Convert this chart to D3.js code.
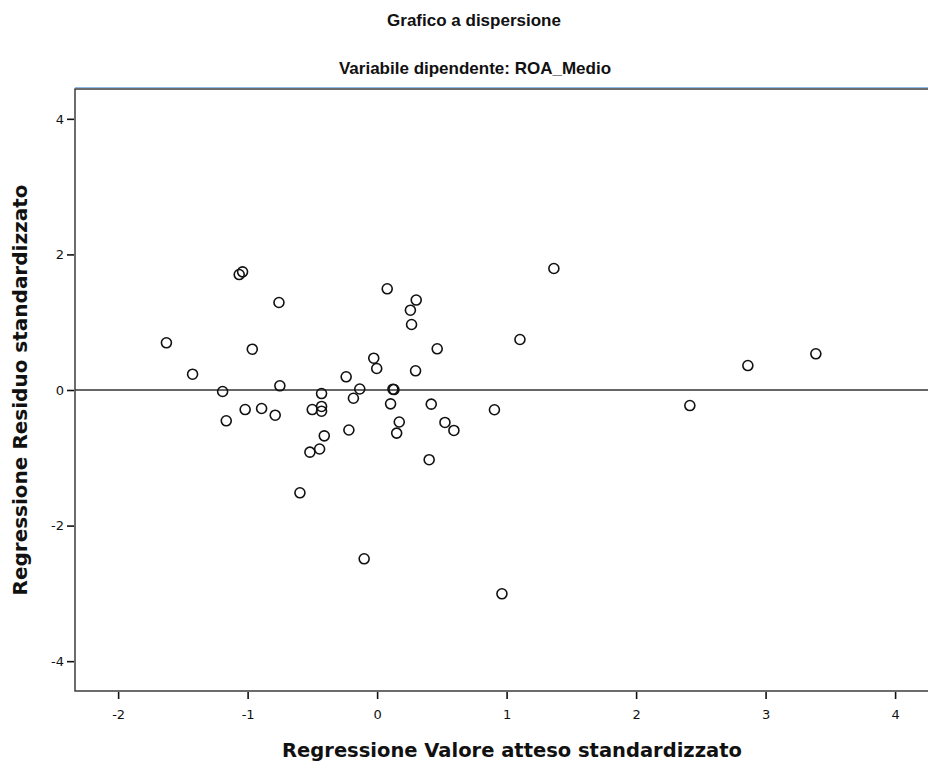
<!DOCTYPE html>
<html>
<head>
<meta charset="utf-8">
<script src="https://cdn.jsdelivr.net/npm/d3@7"></script>
<style>
  html, body { margin: 0; padding: 0; background: #fff; }
  svg { display: block; }
</style>
</head>
<body>
<div id="chart"></div>
<script>
// standardized predicted values (x) and standardized residuals (y)
const predicted = [
  -1.627, -1.425, -1.193, -1.165, -1.065, -1.039, -1.019, -0.964, -0.892, -0.787,
  -0.758, -0.751, -0.596, -0.519, -0.501, -0.444, -0.429, -0.429, -0.429, -0.408,
  -0.239, -0.218, -0.183, -0.134, -0.100, -0.026, -0.003, 0.078, 0.104, 0.122,
  0.130, 0.171, 0.151, 0.257, 0.302, 0.266, 0.297, 0.402, 0.418, 0.464,
  0.524, 0.593, 0.906, 0.964, 1.103, 1.365, 2.415, 2.863, 3.388
];
const residuals = [
  0.696, 0.233, -0.022, -0.454, 1.703, 1.743, -0.288, 0.602, -0.273, -0.372,
  1.291, 0.062, -1.516, -0.917, -0.288, -0.870, -0.052, -0.243, -0.313, -0.676,
  0.195, -0.590, -0.122, 0.015, -2.490, 0.469, 0.317, 1.493, -0.204, 0.012,
  0.007, -0.472, -0.636, 1.177, 1.327, 0.966, 0.283, -1.028, -0.209, 0.608,
  -0.479, -0.597, -0.291, -3.006, 0.745, 1.792, -0.229, 0.361, 0.534
];
const xTicks = [-2, -1, 0, 1, 2, 3, 4];
const yTicks = [-4, -2, 0, 2, 4];

const title1 = 'Grafico a dispersione',
    title2 = 'Variabile dipendente: ROA_Medio',
    xTitle = 'Regressione Valore atteso standardizzato',
    yTitle = 'Regressione Residuo standardizzato';

const width = 928,
    height = 766,
    plot = {left: 75, top: 89, right: 950, bottom: 691};

const points = predicted.map((x, i) => ({x: x, y: residuals[i]}));

const x = d3.scaleLinear()
    .domain([-2.333, 4.424])
    .range([plot.left, plot.right]);

const y = d3.scaleLinear()
    .domain([-4.44, 4.44])
    .range([plot.bottom, plot.top]);

// plain hyphen for negatives, like the original
const fmt = d => String(d);

const svg = d3.select('#chart').append('svg')
    .attr('width', width)
    .attr('height', height);

// titles
svg.append('text')
    .attr('x', 474)
    .attr('y', 26)
    .attr('text-anchor', 'middle')
    .style('font', 'bold 17px "Liberation Sans", Arial, sans-serif')
    .attr('fill', '#111')
    .text(title1);

svg.append('text')
    .attr('x', 475)
    .attr('y', 74)
    .attr('text-anchor', 'middle')
    .style('font', 'bold 17px "Liberation Sans", Arial, sans-serif')
    .attr('fill', '#111')
    .text(title2);

// light blue selection line above the frame
svg.append('line')
    .attr('x1', plot.left)
    .attr('x2', width)
    .attr('y1', plot.top - 1.5)
    .attr('y2', plot.top - 1.5)
    .attr('stroke', '#8fb8e8')
    .attr('stroke-width', 1);

// frame: top, left and bottom
svg.append('path')
    .attr('d', `M${width},${plot.top}H${plot.left}V${plot.bottom}H${width}`)
    .attr('fill', 'none')
    .attr('stroke', '#3c3c3c')
    .attr('stroke-width', 1.5);

// reference line at 0
svg.append('line')
    .attr('x1', plot.left)
    .attr('x2', width)
    .attr('y1', y(0))
    .attr('y2', y(0))
    .attr('stroke', '#333')
    .attr('stroke-width', 1.3);

// axes
const xAxis = svg.append('g')
    .attr('transform', `translate(0, ${plot.bottom})`)
    .call(d3.axisBottom(x).tickValues(xTicks).tickSize(8).tickPadding(11).tickFormat(fmt));

const yAxis = svg.append('g')
    .attr('transform', `translate(${plot.left}, 0)`)
    .call(d3.axisLeft(y).tickValues(yTicks).tickSize(8).tickPadding(3).tickFormat(fmt));

[xAxis, yAxis].forEach(g => {
    g.select('.domain').remove();
    g.selectAll('.tick line')
        .attr('stroke', '#111')
        .attr('stroke-width', 1.6);
    g.selectAll('.tick text')
        .attr('fill', '#111')
        .style('font', '13px "DejaVu Sans", Verdana, sans-serif');
});
xAxis.selectAll('.tick line').attr('y1', 1);
yAxis.selectAll('.tick line').attr('x1', -1);

// axis titles
svg.append('text')
    .attr('x', 512)
    .attr('y', 757)
    .attr('text-anchor', 'middle')
    .style('font', 'bold 19.5px "DejaVu Sans", Verdana, sans-serif')
    .attr('fill', '#111')
    .text(xTitle);

svg.append('text')
    .attr('transform', `translate(27, 390) rotate(-90)`)
    .attr('text-anchor', 'middle')
    .style('font', 'bold 20px "DejaVu Sans", Verdana, sans-serif')
    .attr('fill', '#111')
    .text(yTitle);

// points
svg.append('g')
    .selectAll('circle')
    .data(points)
    .join('circle')
    .attr('cx', d => x(d.x))
    .attr('cy', d => y(d.y))
    .attr('r', 5)
    .attr('fill', 'none')
    .attr('stroke', '#111')
    .attr('stroke-width', 1.6);
</script>
</body>
</html>
